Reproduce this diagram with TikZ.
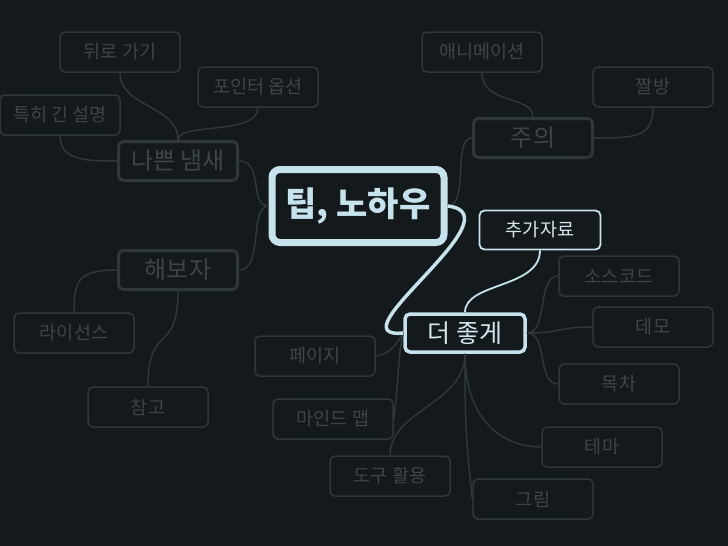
\documentclass[tikz,border=0pt]{standalone}
\usepackage{fontspec}
\setmainfont{Noto Sans CJK KR}
\usepackage{tikz}
\usetikzlibrary{arrows.meta, positioning, calc}
\definecolor{mybg}{RGB}{20,26,27}
\definecolor{mydim}{RGB}{46,55,57}
\definecolor{mydimtext}{RGB}{60,69,71}
\definecolor{mylight}{RGB}{198,226,236}
\definecolor{mylighttext}{RGB}{214,230,236}

\begin{document}
\begin{tikzpicture}[x=1pt,y=-1pt,
    leaf/.style={draw=mydim,line width=1.5pt,rounded corners=5pt,minimum width=120pt,minimum height=40pt,
                 inner sep=0pt,text=mydimtext,font=\fontsize{18.5}{18.5}\selectfont},
    branch/.style={leaf,line width=3pt,minimum width=119pt,minimum height=39pt,font=\fontsize{24}{24}\selectfont},
    link/.style={draw=mydim,line width=1.5pt}]
    % Background
    \fill[mybg] (0,0) rectangle (728,546);
    \useasboundingbox (0,0) rectangle (728,546);

    % Central topic
    \node[draw=mylight,line width=7pt,rounded corners=8pt,minimum width=172pt,minimum height=73pt,inner sep=0pt,
          text=mylight,font=\fontsize{34}{34}\selectfont\bfseries] (tip) at (358,206) {팁, 노하우};

    % Left side
    \node[branch] (smell) at (178,161) {나쁜 냄새};
    \node[leaf] (back) at (120,52) {뒤로 가기};
    \node[leaf] (pointer) at (258,87) {포인터 옵션};
    \node[leaf] (longtxt) at (60,115) {특히 긴 설명};
    \node[branch] (tryit) at (178,270) {해보자};
    \node[leaf] (license) at (74,333) {라이선스};
    \node[leaf] (refs) at (148,407) {참고};

    % Right top
    \node[branch] (caution) at (533,138) {주의};
    \node[leaf] (anim) at (482,52) {애니메이션};
    \node[leaf] (zzal) at (653,87) {짤방};

    % Make it better
    \node[draw=mylight,line width=3.5pt,rounded corners=5pt,minimum width=120pt,minimum height=38pt,inner sep=0pt,
          text=mylighttext,font=\fontsize{25}{25}\selectfont] (better) at (465,333) {더 좋게};
    \node[draw=mylight,line width=1.8pt,rounded corners=5pt,minimum width=121pt,minimum height=39pt,inner sep=0pt,
          text=mylighttext,font=\fontsize{18.5}{18.5}\selectfont] (extra) at (540,230) {추가자료};
    \node[leaf] (source) at (619,276) {소스코드};
    \node[leaf] (demo) at (653,327) {데모};
    \node[leaf] (toc) at (619,384) {목차};
    \node[leaf] (theme) at (602,447) {테마};
    \node[leaf] (figure) at (533,499) {그림};
    \node[leaf] (page) at (315,356) {페이지};
    \node[leaf] (mindmap) at (333,419) {마인드 맵};
    \node[leaf] (tools) at (390,476) {도구 활용};

    % Dim connectors
    \draw[link] (back.south) .. controls +(0,35) and +(0,-35) .. (smell.north);
    \draw[link] (pointer.south) .. controls +(0,28) and +(0,-18) .. (smell.north);
    \draw[link] (longtxt.south) .. controls +(0,25) and +(-30,0) .. (smell.west);
    \draw[link] (smell.east) .. controls +(25,0) and +(-20,0) .. (tip.west);
    \draw[link] (tryit.east) .. controls +(25,0) and +(-20,0) .. (tip.west);
    \draw[link] (tryit.west) .. controls +(-40,0) and +(0,-30) .. (license.north);
    \draw[link] (tryit.south) .. controls +(0,65) and +(0,-65) .. (refs.north);
    \draw[link] (tip.east) .. controls +(22,0) and +(-20,0) .. (caution.west);
    \draw[link] (anim.south) .. controls +(0,32) and +(0,-22) .. (caution.north);
    \draw[link] (zzal.south) .. controls +(0,30) and +(40,0) .. (caution.east);
    \draw[link] (better.east) .. controls +(22,0) and +(-22,0) .. (source.west);
    \draw[link] (better.east) .. controls +(35,0) and +(-35,0) .. (demo.west);
    \draw[link] (better.east) .. controls +(22,0) and +(-22,0) .. (toc.west);
    \draw[link] (better.south) .. controls +(0,65) and +(-40,0) .. (theme.west);
    \draw[link] (better.south) .. controls +(0,80) and +(-6,-60) .. (figure.west);
    \draw[link] (page.east) .. controls +(15,-2) and +(-6,10) .. (better.west);
    \draw[link] (mindmap.east) .. controls +(6,-45) and +(-6,25) .. (better.west);
    \draw[link] (tools.north) .. controls +(0,-45) and +(0,50) .. (better.south);

    % Highlighted connectors
    \draw[mylight,line width=3.5pt] (tip.east) .. controls +(73,8) and +(-73,7) .. (better.west);
    \draw[mylight,line width=1.8pt] (extra.south) .. controls +(0,38) and +(0,-30) .. (better.north);
\end{tikzpicture}
\end{document}
